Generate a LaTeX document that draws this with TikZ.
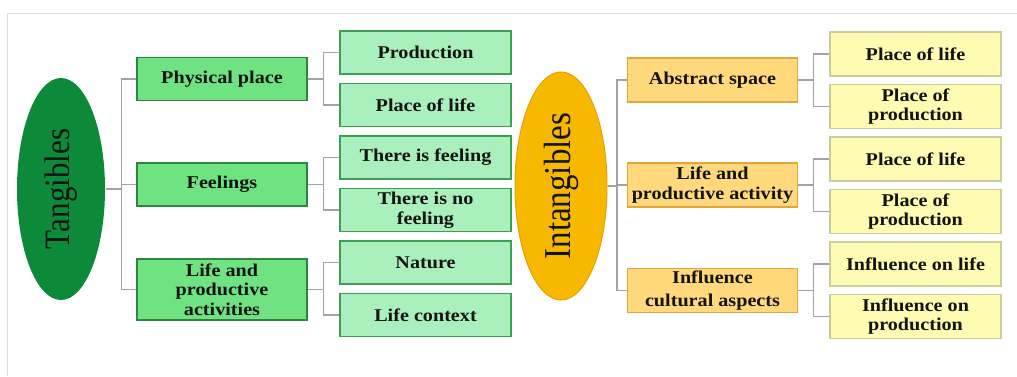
\documentclass[tikz,border=0pt]{standalone}
\usepackage{fontspec}
\setmainfont{Liberation Serif}[FakeStretch=1.12]
\newfontfamily\plainserif{Liberation Serif}
\usetikzlibrary{positioning,shapes.geometric}
\definecolor{tanfill}{HTML}{0C8A3A}
\definecolor{intfill}{HTML}{F7B900}
\definecolor{intline}{HTML}{E8A000}
\definecolor{grnbox}{HTML}{6FE282}
\definecolor{grnline}{HTML}{2E8540}
\definecolor{grnleaf}{HTML}{A9F0BC}
\definecolor{grnleafline}{HTML}{3E9E55}
\definecolor{ylwbox}{HTML}{FFD97C}
\definecolor{ylwline}{HTML}{E2A63C}
\definecolor{ylwleaf}{HTML}{FFFBB2}
\definecolor{ylwleafline}{HTML}{CBCB9C}
\definecolor{conngray}{HTML}{A3A3A3}
\definecolor{framegray}{HTML}{DDDDDD}
\definecolor{txt}{HTML}{141414}

\begin{document}
\begin{tikzpicture}[x=1pt,y=-1pt,
    box/.style={draw,line width=1.2pt,minimum width=170pt,minimum height=43pt,
      inner sep=1pt,align=center,text=txt,
      font=\fontsize{18}{19.5}\selectfont\bfseries},
    gbox/.style={box,fill=grnbox,draw=grnline},
    gleaf/.style={box,fill=grnleaf,draw=grnleafline,minimum width=171pt},
    ybox/.style={box,fill=ylwbox,draw=ylwline,minimum height=44pt},
    yleaf/.style={box,fill=ylwleaf,draw=ylwleafline,minimum width=171pt,minimum height=44pt},
    bigell/.style={ellipse,inner sep=0pt,line width=1pt},
    biglbl/.style={rotate=90,text=txt},
    conn/.style={draw=conngray,line width=1.6pt}]
 \useasboundingbox (0,0) rectangle (1017,376);
 \draw[framegray,line width=1pt] (7,376) |- (1017,13);
 % tangibles
 \node[bigell,fill=tanfill,minimum width=88pt,minimum height=222pt] (tan) at (61,189) {};
 \node[biglbl,font=\fontsize{31}{31}\plainserif] (tanlbl) at (tan) {\scalebox{1}[1.15]{Tangibles}};
 \node[gbox] (pp) at (222,79) {Physical place};
 \node[gbox] (fe) at (222,184.5) {Feelings};
 \node[gbox,minimum height=61pt] (lpa) at (222,289.5) {Life and\\productive\\activities};
 \node[gleaf] (prod) at (425.5,52.5) {Production};
 \node[gleaf,below=8.3pt of prod] (plife) {Place of life};
 \node[gleaf,below=8.3pt of plife] (feel) {There is feeling};
 \node[gleaf,below=8.3pt of feel] (nofeel) {There is no\\feeling};
 \node[gleaf,below=8.3pt of nofeel] (nat) {Nature};
 \node[gleaf,below=8.3pt of nat] (lctx) {Life context};
 \foreach \X in {pp,fe,lpa} {\draw[conn] (\X.west) -- ++(-15,0) |- (tan.east);}
 \foreach \X/\Y in {prod/pp,plife/pp,feel/fe,nofeel/fe,nat/lpa,lctx/lpa}
  {\draw[conn] (\X.west) -- ++(-16,0) |- (\Y.east);}
 % intangibles
 \node[bigell,fill=intfill,draw=intline,minimum width=92pt,minimum height=228pt] (int) at (561,186) {};
 \node[biglbl,font=\fontsize{33}{33}\plainserif] (intlbl) at (int) {\scalebox{1}[1.15]{Intangibles}};
 \node[ybox] (abs) at (712.5,80) {Abstract space};
 \node[ybox] (lpact) at (712.5,185) {Life and\\productive activity};
 \node[ybox] (infl) at (712.5,290.5) {Influence\\[4pt]cultural aspects};
 \node[yleaf] (rlife) at (915.5,54) {Place of life};
 \node[yleaf,below=7.3pt of rlife] (rprod) {Place of\\production};
 \node[yleaf,below=7.3pt of rprod] (alife) {Place of life};
 \node[yleaf,below=7.3pt of alife] (aprod) {Place of\\production};
 \node[yleaf,below=7.3pt of aprod] (ilife) {Influence on life};
 \node[yleaf,below=7.3pt of ilife] (iprod) {Influence on\\production};
 \foreach \X in {abs,lpact,infl} {\draw[conn] (\X.west) -- ++(-10,0) |- (int.east);}
 \foreach \X/\Y in {rlife/abs,rprod/abs,alife/lpact,aprod/lpact,ilife/infl,iprod/infl}
  {\draw[conn] (\X.west) -- ++(-16,0) |- (\Y.east);}
\end{tikzpicture}
\end{document}
